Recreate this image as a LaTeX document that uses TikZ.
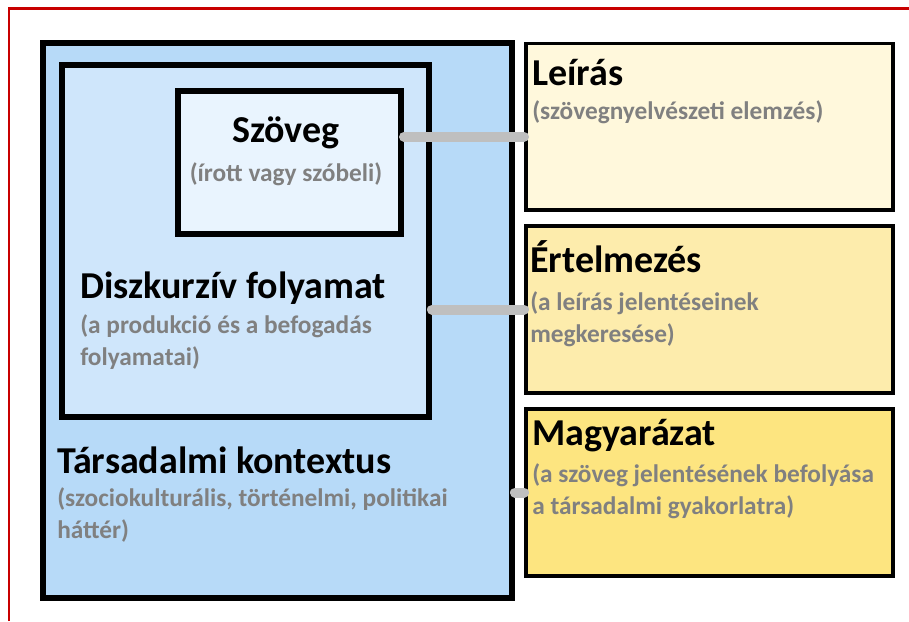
\documentclass[tikz,border=0pt]{standalone}
\usepackage{fontspec}
\setmainfont{Carlito}
\usetikzlibrary{positioning}
\definecolor{tarsblue}{RGB}{183,218,248}
\definecolor{diskblue}{RGB}{207,230,251}
\definecolor{szovblue}{RGB}{233,244,254}
\definecolor{cream}{RGB}{255,248,220}
\definecolor{lightyel}{RGB}{253,236,172}
\definecolor{deepyel}{RGB}{253,229,128}
\definecolor{subgray}{RGB}{128,128,128}
\definecolor{linkgray}{RGB}{191,191,191}
\definecolor{framered}{RGB}{200,0,0}

\begin{document}
\begin{tikzpicture}[x=0.75pt, y=-0.75pt,
    box/.style={rectangle, draw=black, line width=4.5pt, anchor=north west, inner sep=0pt},
    sidebox/.style={rectangle, draw=black, line width=2.8pt, inner sep=0pt,
        minimum width=275.25pt, minimum height=124.9pt},
    title/.style={inner sep=0pt, anchor=base west, font=\fontsize{28.5}{34}\selectfont\bfseries},
    sub/.style={inner sep=0pt, anchor=base west, align=left,
        text=subgray, font=\fontsize{19}{24}\selectfont\bfseries},
    link/.style={draw=linkgray, line width=7.5pt, line cap=round}]
  \useasboundingbox (0,0) rectangle (909,621);
  \draw[framered, line width=1.6pt] (9,621) -- (9,8.5) -- (909,8.5);

  % kontextus
  \node[box, fill=tarsblue, minimum width=351.75pt, minimum height=416.25pt] (tars) at (40,40) {};
  \node[box, fill=diskblue, minimum width=275.6pt, minimum height=264pt] (disk) at (58.5,61.5) {};
  \node[box, fill=szovblue, minimum width=167.25pt, minimum height=107.25pt] (szov) at (175,87.5) {};

  % jobb oldal
  \node[sidebox, fill=cream, anchor=north west] (leir) at (524,41.5) {};
  \node[sidebox, fill=lightyel, below=9.5pt of leir] (ert) {};
  \node[sidebox, fill=deepyel, below=9.5pt of ert] (magy) {};

  % szovegek (tobbsoros: base = utolso sor)
  \node[title, anchor=base] (szovT) at (286,142) {Szöveg};
  \node[sub, anchor=base] (szovS) at (286,181) {(írott vagy szóbeli)};
  \node[title] (diskT) at (80,298) {Diszkurzív folyamat};
  \node[sub] (diskS) at (80,365) {(a produkció és a befogadás\\folyamatai)};
  \node[title] (tarsT) at (57,473) {Társadalmi kontextus};
  \node[sub] (tarsS) at (57,538) {(szociokulturális, történelmi, politikai\\háttér)};

  \node[title] (leirT) at (532,85) {Leírás};
  \node[sub] (leirS) at (532,119) {(szövegnyelvészeti elemzés)};
  \node[title] (ertT) at (530,272) {Értelmezés};
  \node[sub] (ertS) at (530,342) {(a leírás jelentéseinek\\megkeresése)};
  \node[title] (magyT) at (532,445) {Magyarázat};
  \node[sub] (magyS) at (532,514) {(a szöveg jelentésének befolyása\\a társadalmi gyakorlatra)};

  % kapcsolatok
  \coordinate (c1) at ([yshift=-7.5pt]leir.west);
  \draw[link] (c1 -| szov.east) -- (c1);
  \draw[link] (ert.west -| disk.east) -- (ert.west);
  \draw[link] (magy.west -| tars.east) -- (magy.west);
\end{tikzpicture}
\end{document}
